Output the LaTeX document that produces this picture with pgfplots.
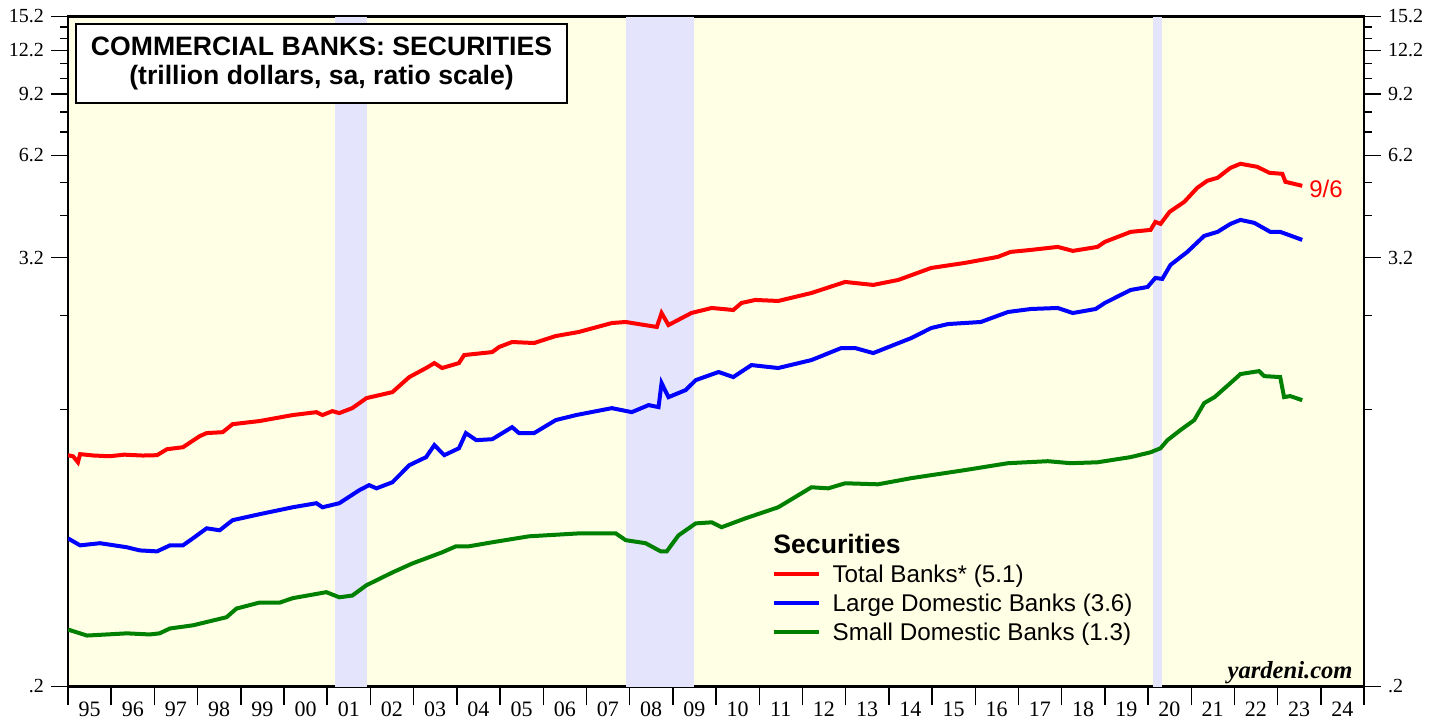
\documentclass[border=0pt]{standalone}
\usepackage{fontspec}
\setmainfont{Liberation Sans}
\newfontfamily\seriffont{Liberation Serif}
\usepackage{pgfplots}
\pgfplotsset{compat=1.18}
\definecolor{bgy}{RGB}{255,255,229}
\definecolor{rec}{RGB}{228,228,252}
\definecolor{dgreen}{RGB}{0,128,0}
\pgfplotsset{legend image code/.code={\draw[#1] (0pt,0pt) -- (22.5pt,0pt);}}
\begin{document}
\begin{tikzpicture}
\useasboundingbox (-34pt,-16.25pt) rectangle (685.5pt,343.25pt);
\begin{axis}[at={(0pt,0pt)}, anchor=south west, scale only axis,
  width=648pt, height=335pt, xmin=1995, xmax=2025, ymode=log, ymin=0.2, ymax=15.2,
  tick align=outside,
  axis background/.style={fill=bgy},
  axis line style={line width=1.2pt},
  ytick=\empty, minor ytick={},
  xtick={1995.5,1996.5,...,2024.5},
  xticklabels={95,96,97,98,99,00,01,02,03,04,05,06,07,08,09,10,11,12,13,14,15,16,17,18,19,20,21,22,23,24},
  major tick length=0pt,
  minor xtick={1995,1996,...,2025},
  minor tick length=9.5pt,
  minor x tick style={line width=0.7pt, black},
  xtick pos=bottom,
  xticklabel style={font=\seriffont\fontsize{11}{12}\selectfont, yshift=-4pt},
  legend style={at={(rel axis cs:0.5426,0.1903)}, anchor=north west, draw=none, fill=none,
    inner sep=0pt, row sep=0pt, font=\fontsize{12.1}{14}\selectfont,
    nodes={inner sep=0pt, text height=11.75pt, text depth=2.75pt},
    /tikz/every odd column/.append style={column sep=6pt}},
  legend cell align=left,
]
\addplot[fill=rec, draw=none, forget plot] coordinates {(2001.17,0.2) (2001.17,15.2) (2001.92,15.2) (2001.92,0.2)} -- cycle;
\addplot[fill=rec, draw=none, forget plot] coordinates {(2007.92,0.2) (2007.92,15.2) (2009.50,15.2) (2009.50,0.2)} -- cycle;
\addplot[fill=rec, draw=none, forget plot] coordinates {(2020.12,0.2) (2020.12,15.2) (2020.33,15.2) (2020.33,0.2)} -- cycle;

\addplot[red, line width=2pt] coordinates {
(1995.00,0.892) (1995.12,0.885) (1995.23,0.852) (1995.28,0.898) (1995.6,0.890) (1995.97,0.886) (1996.3,0.895) (1996.73,0.890) (1997.06,0.892) (1997.29,0.927) (1997.66,0.939) (1998.05,1.009) (1998.21,1.029) (1998.58,1.035) (1998.81,1.090) (1999.43,1.112) (2000.20,1.156) (2000.75,1.178) (2000.89,1.156) (2001.12,1.186) (2001.28,1.171) (2001.58,1.209) (2001.91,1.290) (2002.51,1.341) (2002.90,1.478) (2003.29,1.567) (2003.48,1.618) (2003.66,1.567) (2004.05,1.618) (2004.17,1.704) (2004.82,1.737) (2004.98,1.795) (2005.28,1.854) (2005.79,1.842) (2006.29,1.927) (2006.82,1.978) (2007.59,2.096) (2007.91,2.110) (2008.63,2.043) (2008.74,2.236) (2008.90,2.069) (2009.43,2.236) (2009.90,2.310) (2010.40,2.280) (2010.59,2.386) (2010.91,2.433) (2011.44,2.417) (2012.21,2.545) (2012.99,2.733) (2013.64,2.681) (2014.22,2.769) (2014.98,2.992) (2015.76,3.091) (2016.52,3.213) (2016.82,3.319) (2017.29,3.362) (2017.91,3.428) (2018.26,3.341) (2018.83,3.428) (2019.00,3.541) (2019.60,3.778) (2020.06,3.827) (2020.17,4.030) (2020.29,3.979) (2020.50,4.300) (2020.84,4.587) (2021.14,5.022) (2021.37,5.255) (2021.61,5.358) (2021.91,5.716) (2022.14,5.866) (2022.53,5.753) (2022.81,5.534) (2023.11,5.498) (2023.18,5.222) (2023.57,5.088)
};
\addlegendentry{Total Banks* (5.1)}
\addplot[blue, line width=2pt] coordinates {
(1995.00,0.521) (1995.28,0.498) (1995.74,0.505) (1996.36,0.492) (1996.66,0.482) (1997.06,0.479) (1997.36,0.498) (1997.66,0.498) (1997.89,0.521) (1998.21,0.556) (1998.51,0.549) (1998.81,0.586) (1999.43,0.609) (2000.20,0.637) (2000.75,0.654) (2000.89,0.637) (2001.28,0.654) (2001.74,0.711) (2001.97,0.735) (2002.14,0.720) (2002.51,0.749) (2002.90,0.836) (2003.29,0.881) (2003.48,0.952) (2003.71,0.892) (2004.05,0.933) (2004.21,1.029) (2004.45,0.983) (2004.82,0.989) (2005.28,1.069) (2005.44,1.029) (2005.79,1.029) (2006.29,1.119) (2006.76,1.156) (2007.59,1.209) (2008.05,1.178) (2008.44,1.233) (2008.67,1.217) (2008.74,1.422) (2008.90,1.298) (2009.30,1.359) (2009.53,1.449) (2010.06,1.527) (2010.40,1.478) (2010.82,1.597) (2011.44,1.567) (2012.21,1.650) (2012.90,1.783) (2013.22,1.783) (2013.64,1.726) (2014.52,1.902) (2014.98,2.029) (2015.37,2.082) (2016.13,2.110) (2016.76,2.251) (2017.29,2.295) (2017.91,2.310) (2018.26,2.236) (2018.79,2.295) (2019.00,2.386) (2019.60,2.595) (2019.99,2.646) (2020.17,2.805) (2020.33,2.787) (2020.52,3.051) (2020.91,3.319) (2021.30,3.681) (2021.61,3.778) (2021.91,3.979) (2022.14,4.082) (2022.46,4.004) (2022.83,3.778) (2023.06,3.778) (2023.57,3.587)
};
\addlegendentry{Large Domestic Banks (3.6)}
\addplot[dgreen, line width=2pt] coordinates {
(1995.00,0.289) (1995.44,0.278) (1996.36,0.282) (1996.89,0.280) (1997.12,0.282) (1997.36,0.291) (1997.89,0.297) (1998.67,0.313) (1998.90,0.331) (1999.43,0.344) (1999.90,0.344) (2000.20,0.354) (2000.98,0.368) (2001.28,0.356) (2001.58,0.360) (2001.91,0.385) (2002.51,0.418) (2002.97,0.443) (2003.29,0.458) (2003.66,0.476) (2003.98,0.495) (2004.28,0.495) (2004.82,0.508) (2005.67,0.528) (2006.82,0.538) (2007.68,0.538) (2007.91,0.515) (2008.37,0.505) (2008.72,0.479) (2008.86,0.479) (2009.13,0.531) (2009.53,0.574) (2009.90,0.578) (2010.13,0.560) (2010.68,0.593) (2011.44,0.637) (2012.21,0.725) (2012.60,0.720) (2012.99,0.744) (2013.75,0.739) (2014.52,0.769) (2015.76,0.810) (2016.76,0.847) (2017.68,0.858) (2018.21,0.847) (2018.83,0.852) (2019.60,0.881) (2020.06,0.909) (2020.29,0.933) (2020.45,0.983) (2020.75,1.049) (2021.07,1.119) (2021.30,1.249) (2021.54,1.298) (2021.91,1.422) (2022.14,1.507) (2022.57,1.536) (2022.69,1.487) (2023.06,1.478) (2023.15,1.298) (2023.29,1.307) (2023.57,1.273)
};
\addlegendentry{Small Domestic Banks (1.3)}

\node[anchor=north west, draw, line width=1pt, fill=white, minimum width=245.5pt, minimum height=39.5pt,
  align=center, inner sep=0pt, font=\bfseries\fontsize{13.3}{14.5}\selectfont]
  at ([xshift=3.5pt,yshift=-3pt]rel axis cs:0,1) {COMMERCIAL BANKS: SECURITIES\\(trillion dollars, sa, ratio scale)};
\node[anchor=base west, inner sep=0pt, font=\bfseries\fontsize{13.3}{14}\selectfont] at (rel axis cs:0.544,0.1985) {Securities};
\node[anchor=west, text=red, font=\fontsize{12}{12}\selectfont] at (axis cs:2023.57,5.0) {9/6};
\node[anchor=base east, inner sep=0pt, font=\seriffont\bfseries\itshape\fontsize{12.3}{12}\selectfont] at ([xshift=-5.5pt,yshift=4pt]rel axis cs:1,0) {yardeni.com};
\end{axis}
\begin{axis}[at={(0pt,0pt)}, anchor=south west, scale only axis,
  width=648pt, height=335pt, xmin=1995, xmax=2025, ymode=log, ymin=0.2, ymax=15.2,
  tick align=outside, axis line style={draw=none}, xtick=\empty, minor xtick={},
  ytick={0.2,3.2,6.2,9.2,12.2,15.2}, yticklabels={.2,3.2,6.2,9.2,12.2,15.2},
  minor ytick={1.2,2.2,4.2,5.2,7.2,8.2,10.2,11.2,13.2,14.2},
  major tick length=8.5pt, minor tick length=4pt,
  ytick style={line width=0.7pt, black}, minor y tick style={line width=0.7pt, black},
  ytick pos=left, yticklabel pos=left,
  yticklabel style={font=\seriffont\fontsize{10}{12}\selectfont}]
\end{axis}
\begin{axis}[at={(0pt,0pt)}, anchor=south west, scale only axis,
  width=648pt, height=335pt, xmin=1995, xmax=2025, ymode=log, ymin=0.2, ymax=15.2,
  tick align=outside, axis line style={draw=none}, xtick=\empty, minor xtick={},
  ytick={0.2,3.2,6.2,9.2,12.2,15.2}, yticklabels={.2,3.2,6.2,9.2,12.2,15.2},
  minor ytick={1.2,2.2,4.2,5.2,7.2,8.2,10.2,11.2,13.2,14.2},
  major tick length=8.5pt, minor tick length=4pt,
  ytick style={line width=0.7pt, black}, minor y tick style={line width=0.7pt, black},
  ytick pos=right, yticklabel pos=right,
  yticklabel style={font=\seriffont\fontsize{10}{12}\selectfont}]
\end{axis}
\end{tikzpicture}
\end{document}
